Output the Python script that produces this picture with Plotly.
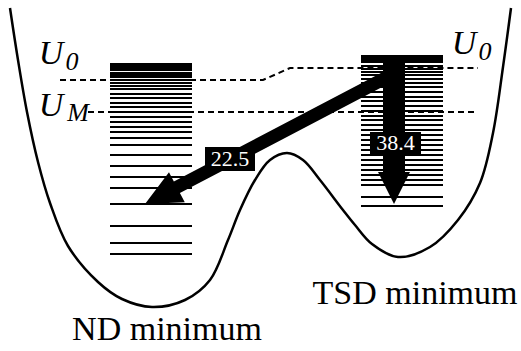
import numpy as np
import plotly.graph_objects as go

# ---- data (pixel-like diagram coordinates, y grows downward) ----
curve_x = [10, 18, 27, 38, 50, 68, 98, 122, 152, 185, 210, 228, 240, 255, 270, 287, 303, 320, 343, 355, 372, 398, 430, 458, 480, 493, 503, 511]
curve_y = [8, 60, 112, 162, 203, 246, 282, 299, 307, 300, 280, 240, 210, 180, 160, 153, 160, 180, 210, 225, 244, 257, 247, 220, 183, 133, 67, 8]

nd_levels = [254, 243, 226, 204, 188, 177, 166, 155, 145, 138, 132, 127, 122, 117, 112, 107, 103, 98, 94, 89, 86, 83, 80, 77, 75, 73]
tsd_levels = [206, 197, 185, 180, 175, 170, 165, 160, 155, 150, 145, 140, 135, 130, 125, 120, 116, 111, 106, 101, 97, 92, 87, 83, 79, 75, 72, 69, 66]
nd_span = [110, 192]
tsd_span = [361, 443]
nd_block = [63, 71]
tsd_block = [55, 63]

u0_x = [60, 263, 290, 478]
u0_y = [80, 80, 68, 68]
um_x = [88, 478]
um_y = [112, 112]

rates = ["22.5", "38.4"]
rate_boxes = [(205, 255, 147, 171), (370, 421, 132, 155)]
diag_arrow = dict(start=(393, 74), tip=(145, 204), width=13, head_len=36, head_half=17)
vert_arrow = dict(start=(394, 62), tip=(394, 204), width=22, head_len=32, head_half=16)

labels = ["ND minimum", "TSD minimum"]
label_x = [167, 415]
label_y = [331, 295]

sym_main = ["U", "U", "U"]
sym_main_x = [51, 51, 464]
sym_main_y = [55, 107, 45]
sym_sub = ["0", "M", "0"]
sym_sub_x = [72, 78, 485]
sym_sub_y = [63, 114, 53]

FONT = "Liberation Serif"

fig = go.Figure()

def levels_trace(levels, span):
    xs, ys = [], []
    for y in levels:
        xs += [span[0], span[1], None]
        ys += [y, y, None]
    return go.Scatter(x=xs, y=ys, mode="lines", line=dict(color="black", width=2),
                      hoverinfo="skip", showlegend=False)

def rect(x0, x1, y0, y1):
    return [x0, x1, x1, x0, x0], [y0, y0, y1, y1, y0]

fig.add_trace(levels_trace(nd_levels, nd_span))
fig.add_trace(levels_trace(tsd_levels, tsd_span))

for span, blk in [(nd_span, nd_block), (tsd_span, tsd_block)]:
    rx, ry = rect(span[0], span[1], blk[0], blk[1])
    fig.add_trace(go.Scatter(x=rx, y=ry, mode="lines", fill="toself", fillcolor="black",
                             line=dict(color="black", width=0), hoverinfo="skip", showlegend=False))

for xs, ys in [(u0_x, u0_y), (um_x, um_y)]:
    fig.add_trace(go.Scatter(x=xs, y=ys, mode="lines",
                             line=dict(color="black", width=2, dash="6px,4px"),
                             hoverinfo="skip", showlegend=False))

fig.add_trace(go.Scatter(x=curve_x, y=curve_y, mode="lines",
                         line=dict(color="black", width=2.5, shape="spline", smoothing=1.0),
                         hoverinfo="skip", showlegend=False))

def arrow_poly(a):
    s = np.array(a["start"], float)
    t = np.array(a["tip"], float)
    d = t - s
    u = d / np.linalg.norm(d)
    n = np.array([-u[1], u[0]])
    base = t - u * a["head_len"]
    w = a["width"] / 2
    h = a["head_half"]
    pts = [s + n * w, base + n * w, base + n * h, t, base - n * h, base - n * w, s - n * w, s + n * w]
    return [float(p[0]) for p in pts], [float(p[1]) for p in pts]

for a in [diag_arrow, vert_arrow]:
    px, py = arrow_poly(a)
    fig.add_trace(go.Scatter(x=px, y=py, mode="lines", fill="toself", fillcolor="black",
                             line=dict(color="black", width=0), hoverinfo="skip", showlegend=False))

# rate boxes (black) with white text
for (x0, x1, y0, y1) in rate_boxes:
    rx, ry = rect(x0, x1, y0, y1)
    fig.add_trace(go.Scatter(x=rx, y=ry, mode="lines", fill="toself", fillcolor="black",
                             line=dict(color="black", width=0), hoverinfo="skip", showlegend=False))
fig.add_trace(go.Scatter(x=[(b[0] + b[1]) / 2 for b in rate_boxes],
                         y=[(b[2] + b[3]) / 2 + 1 for b in rate_boxes],
                         mode="text", text=rates, textposition="middle center",
                         textfont=dict(family=FONT, size=22, color="white"),
                         hoverinfo="skip", showlegend=False))

fig.add_trace(go.Scatter(x=label_x, y=label_y, mode="text", text=labels,
                         textposition="middle center",
                         textfont=dict(family=FONT, size=34, color="black"),
                         hoverinfo="skip", showlegend=False))

fig.add_trace(go.Scatter(x=sym_main_x, y=sym_main_y, mode="text", text=sym_main,
                         textposition="middle center",
                         textfont=dict(family=FONT, size=34, color="black", style="italic"),
                         hoverinfo="skip", showlegend=False))
fig.add_trace(go.Scatter(x=sym_sub_x, y=sym_sub_y, mode="text", text=sym_sub,
                         textposition="middle center",
                         textfont=dict(family=FONT, size=26, color="black", style="italic"),
                         hoverinfo="skip", showlegend=False))

fig.update_xaxes(range=[0, 521], visible=False)
fig.update_yaxes(range=[351, 0], visible=False)
fig.update_layout(width=521, height=351, margin=dict(l=0, r=0, t=0, b=0),
                  plot_bgcolor="white", paper_bgcolor="white", showlegend=False)

fig.write_html("out.html")
